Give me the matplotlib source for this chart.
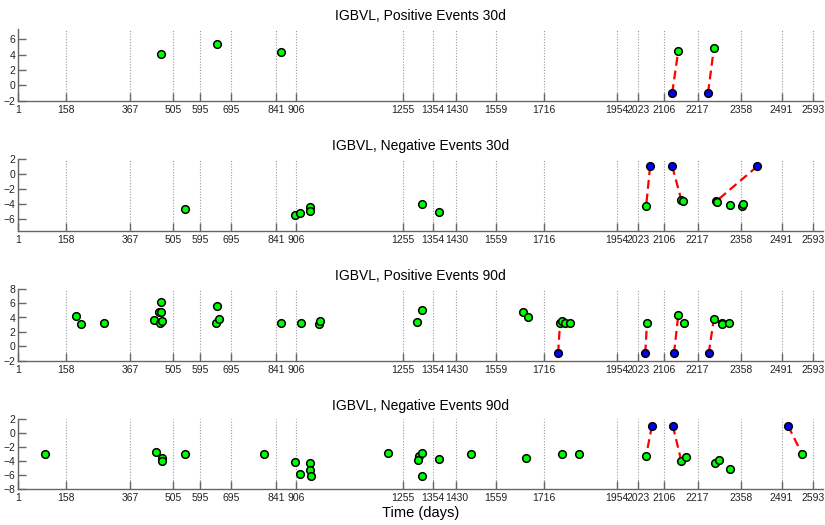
import numpy as np
import matplotlib.pyplot as plt

plt.rcParams['font.family'] = ['Liberation Sans', 'DejaVu Sans']

# -------------------------------------------------------------------
# data (days / values)
# -------------------------------------------------------------------
tick_days = [1, 158, 367, 505, 595, 695, 841, 906, 1255, 1354, 1430, 1559,
             1716, 1954, 2023, 2106, 2217, 2358, 2491, 2593]

titles = ["IGBVL, Positive Events 30d", "IGBVL, Negative Events 30d",
          "IGBVL, Positive Events 90d", "IGBVL, Negative Events 90d"]

# positive 30d
pos30_days = [467, 650, 858, 2154, 2270]
pos30_vals = [4.1, 5.4, 4.3, 4.5, 4.8]
pos30_blue_days = [2134, 2251]
pos30_blue_vals = [-1, -1]
pos30_links = [3, 4]          # green point each blue one is joined to

# negative 30d
neg30_days = [546, 904, 920, 953, 953, 1318, 1375, 2049, 2164, 2168,
              2277, 2281, 2323, 2361, 2364]
neg30_vals = [-4.7, -5.5, -5.2, -4.4, -5.0, -4.1, -5.1, -4.35, -3.5, -3.6,
              -3.7, -3.8, -4.2, -4.3, -4.0]
neg30_blue_days = [2062, 2134, 2412]
neg30_blue_vals = [1, 1, 1]
neg30_links = [7, 8, 10]

# positive 90d
pos90_days = [189, 205, 282, 445, 459, 466, 466, 463, 469, 650, 647, 657,
              858, 922, 983, 986, 1300, 1318, 1647, 1663, 1768, 1775, 1784,
              1801, 2052, 2154, 2174, 2270, 2297, 2296, 2321]
pos90_vals = [4.2, 3.1, 3.2, 3.6, 4.8, 6.1, 4.8, 3.3, 3.5, 5.6, 3.2, 3.8,
              3.2, 3.2, 3.1, 3.55, 3.4, 5.1, 4.8, 4.0, 3.2, 3.5, 3.3,
              3.3, 3.3, 4.4, 3.3, 3.8, 3.2, 3.1, 3.2]
pos90_blue_days = [1762, 2046, 2140, 2253]
pos90_blue_vals = [-1, -1, -1, -1]
pos90_links = [20, 24, 25, 27]

# negative 90d
neg90_days = [87, 449, 471, 471, 546, 804, 904, 920, 953, 953, 955, 1208,
              1308, 1319, 1306, 1318, 1375, 1479, 1657, 1774, 1831, 2049,
              2164, 2180, 2274, 2287, 2323, 2557]
neg90_vals = [-3.0, -2.8, -3.6, -4.1, -3.1, -3.1, -4.2, -5.9, -4.3, -5.3,
              -6.2, -2.95, -3.3, -2.9, -3.9, -6.2, -3.7, -3.0, -3.6, -3.0,
              -3.0, -3.3, -4.1, -3.5, -4.4, -3.9, -5.2, -3.0]
neg90_blue_days = [2068, 2136, 2512]
neg90_blue_vals = [1, 1, 1]
neg90_links = [21, 22, 27]

panels = [
    (pos30_days, pos30_vals, pos30_blue_days, pos30_blue_vals, pos30_links,
     (-2, 7.3), [-2, 0, 2, 4, 6]),
    (neg30_days, neg30_vals, neg30_blue_days, neg30_blue_vals, neg30_links,
     (-7.6, 2), [-6, -4, -2, 0, 2]),
    (pos90_days, pos90_vals, pos90_blue_days, pos90_blue_vals, pos90_links,
     (-2, 8), [-2, 0, 2, 4, 6, 8]),
    (neg90_days, neg90_vals, neg90_blue_days, neg90_blue_vals, neg90_links,
     (-8.1, 2), [-8, -6, -4, -2, 0, 2]),
]

# -------------------------------------------------------------------
# plot
# -------------------------------------------------------------------
W, H = 825, 525
fig = plt.figure(figsize=(W / 100, H / 100), dpi=100)

left, right = 18.3, 823.3
tops = [29.3, 158.7, 288.7, 418.7]
bottoms = [100.7, 230.7, 360.7, 489.3]

axis_col = '#666666'

for i, (gx, gy, bx, by, links, ylim, yticks) in enumerate(panels):
    ax = fig.add_axes([left / W, 1 - bottoms[i] / H,
                       (right - left) / W, (bottoms[i] - tops[i]) / H])

    gx = np.array(gx)
    gy = np.array(gy)
    for b_x, b_y, k in zip(bx, by, links):
        ax.plot([b_x, gx[k]], [b_y, gy[k]], color='red', lw=1.6,
                linestyle=(0, (4, 2.2)), zorder=3)

    ax.plot(gx, gy, 'o', ms=5.5, mfc='#00ff00', mec='black', mew=1.1,
            zorder=4)
    ax.plot(bx, by, 'o', ms=5.5, mfc='#0000ff', mec='black', mew=1.1,
            zorder=5)

    ax.set_xlim(1, 2627)
    ax.set_ylim(*ylim)
    ax.set_xticks(tick_days)
    ax.set_xticklabels([str(d) for d in tick_days])
    ax.set_yticks(yticks)

    ax.grid(axis='x', linestyle=(0, (1, 1.5)), color='#9a9a9a', lw=0.8)
    ax.set_axisbelow(True)

    for s in ['top', 'right']:
        ax.spines[s].set_visible(False)
    for s in ['left', 'bottom']:
        ax.spines[s].set_color(axis_col)
        ax.spines[s].set_linewidth(1.0)

    ax.tick_params(direction='in', length=6, width=1.0, color=axis_col,
                   labelsize=7.5, labelcolor='#222222', pad=3)
    ax.tick_params(axis='y', pad=2)

    ax.set_title(titles[i], fontsize=10, pad=6.5)

ax.set_xlabel("Time (days)", fontsize=10.5, labelpad=2)

plt.savefig("out.png", dpi=100)
